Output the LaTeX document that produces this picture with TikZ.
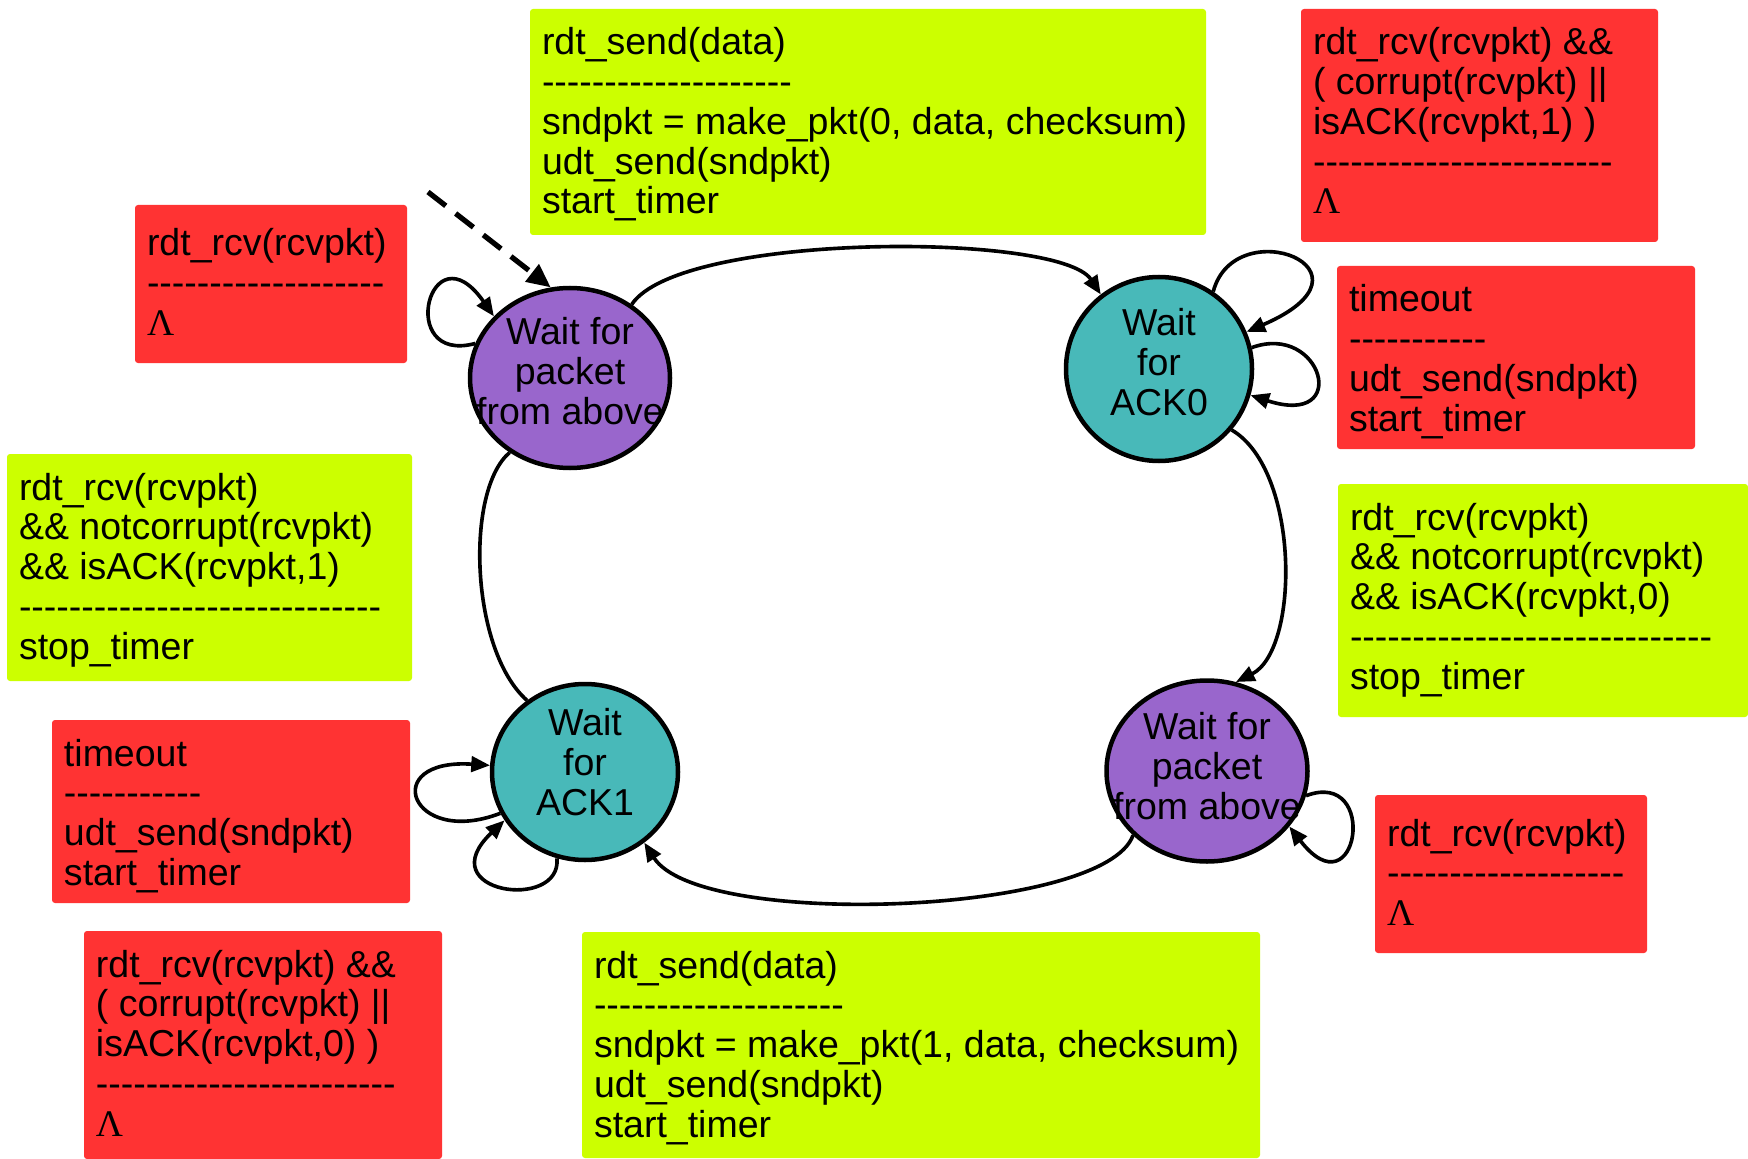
\documentclass[tikz,border=0pt]{standalone}
\usepackage{fontspec}
\setmainfont{Liberation Sans}[Ligatures=TeXOff]
\newfontfamily\lamfont{Liberation Serif}
\usetikzlibrary{shapes.geometric,arrows.meta}

\definecolor{guard}{HTML}{CCFF00}
\definecolor{alarm}{HTML}{FF3333}
\definecolor{waitcall}{HTML}{9966CC}
\definecolor{waitack}{HTML}{48B9B9}

% one drawing unit
\newlength\pxu
\setlength\pxu{0.4pt}

\ExplSyntaxOn
\NewDocumentCommand\dashline{m}{\prg_replicate:nn{#1}{-{}}}
\ExplSyntaxOff
\newcommand\lam{{\lamfont Λ}}

% text of a transition box: width, height, first baseline, lines
\newcommand\cond[4]{%
  \begin{minipage}[t][#2\pxu][t]{#1\pxu}%
    \fontsize{15}{15.9}\selectfont\raggedright
    \setlength\leftskip{12\pxu}%
    \rule{0pt}{#3\pxu}#4%
  \end{minipage}}

\tikzset{
  panel/.style={anchor=north west, inner sep=0pt, outer sep=0pt, rounded corners=1.2pt},
  state/.style={ellipse, draw, line width=1.8pt, inner sep=0pt},
  statetext/.style={align=center, inner sep=0pt, font=\fontsize{15}{16}\selectfont},
  edge/.style={line width=1.45pt, -{Triangle[length=7.5pt,width=6.2pt]}},
  link/.style={line width=1.45pt},
  initedge/.style={line width=2.1pt, dash pattern=on 9pt off 5pt,
                   -{Triangle[length=9.5pt,width=8.5pt]}},
}

\begin{document}
\begin{tikzpicture}[x=0.4pt, y=-0.4pt]
\fill[white] (0,0) rectangle (1748,1159);
\useasboundingbox (0,0) rectangle (1748,1159);

% transition boxes
\node[panel, fill=guard] (g1) at (530,9) {\cond{676}{226}{46}{%
  rdt\_send(data)\\\dashline{20}\\sndpkt = make\_pkt(0, data, checksum)\\udt\_send(sndpkt)\\start\_timer}};
\node[panel, fill=alarm] (r1) at (1301,9) {\cond{357}{233}{46}{%
  rdt\_rcv(rcvpkt) \&\&\\( corrupt(rcvpkt) ||\\isACK(rcvpkt,1) )\\\dashline{24}\\\lam}};
\node[panel, fill=alarm] (r2) at (135,205) {\cond{272}{158}{51}{%
  rdt\_rcv(rcvpkt)\\\dashline{19}\\\lam}};
\node[panel, fill=alarm] (r3) at (1337,266) {\cond{358}{183}{46}{%
  timeout\\\dashline{11}\\udt\_send(sndpkt)\\start\_timer}};
\node[panel, fill=guard] (g2) at (7,454) {\cond{405}{227}{46}{%
  rdt\_rcv(rcvpkt)\\\&\& notcorrupt(rcvpkt)\\\&\& isACK(rcvpkt,1)\\\dashline{29}\\stop\_timer}};
\node[panel, fill=guard] (g3) at (1338,484) {\cond{410}{233}{46}{%
  rdt\_rcv(rcvpkt)\\\&\& notcorrupt(rcvpkt)\\\&\& isACK(rcvpkt,0)\\\dashline{29}\\stop\_timer}};
\node[panel, fill=alarm] (r4) at (52,720) {\cond{358}{183}{46}{%
  timeout\\\dashline{11}\\udt\_send(sndpkt)\\start\_timer}};
\node[panel, fill=alarm] (r5) at (84,931) {\cond{358}{228}{46}{%
  rdt\_rcv(rcvpkt) \&\&\\( corrupt(rcvpkt) ||\\isACK(rcvpkt,0) )\\\dashline{24}\\\lam}};
\node[panel, fill=guard] (g4) at (582,932) {\cond{678}{226}{46}{%
  rdt\_send(data)\\\dashline{20}\\sndpkt = make\_pkt(1, data, checksum)\\udt\_send(sndpkt)\\start\_timer}};
\node[panel, fill=alarm] (r6) at (1375,795) {\cond{272}{158}{51}{%
  rdt\_rcv(rcvpkt)\\\dashline{19}\\\lam}};

% states
\node[state, fill=waitcall, minimum width=80pt, minimum height=72pt,
      label={[statetext, yshift=2.8pt]center:Wait for\\packet\\from above}] (s0) at (570,378) {};
\node[state, fill=waitack, minimum width=74.4pt, minimum height=73.6pt,
      label={[statetext, yshift=2.8pt]center:Wait\\for\\ACK0}] (s1) at (1159,369) {};
\node[state, fill=waitack, minimum width=74.4pt, minimum height=70.4pt,
      label={[statetext, yshift=4pt]center:Wait\\for\\ACK1}] (s2) at (585,772) {};
\node[state, fill=waitcall, minimum width=80.4pt, minimum height=72.4pt,
      label={[statetext, yshift=2pt]center:Wait for\\packet\\from above}] (s3) at (1207,771) {};

% initial transition
\coordinate (init) at (428,192);
\draw[initedge] (init) -- (s0.102);

% transitions between states
\draw[edge] (s0.50) .. controls (680,232) and (1060,232) .. (s1.128);
\draw[edge] (s1.-40) .. controls (1300,470) and (1300,650) .. (s3.72);
\draw[edge] (s3.221) .. controls (1105,915) and (700,930) .. (s2.-50);
\draw[link] (s2.129) .. controls (470,650) and (465,490) .. (s0.231);

% self transitions
\draw[edge] (s0.160) .. controls (395,365) and (430,225) .. (s0.141);
\draw[edge] (s1.55) .. controls (1235,210) and (1390,270) .. (s1.23);
\draw[edge] (s1.13) .. controls (1322,322) and (1352,428) .. (s1.-16);
\draw[edge] (s2.206) .. controls (410,848) and (378,758) .. (s2.176);
\draw[edge] (s2.252) .. controls (562,912) and (428,893) .. (s2.211);
\draw[edge] (s3.-14) .. controls (1380,768) and (1358,915) .. (s3.-34);
\end{tikzpicture}
\end{document}
